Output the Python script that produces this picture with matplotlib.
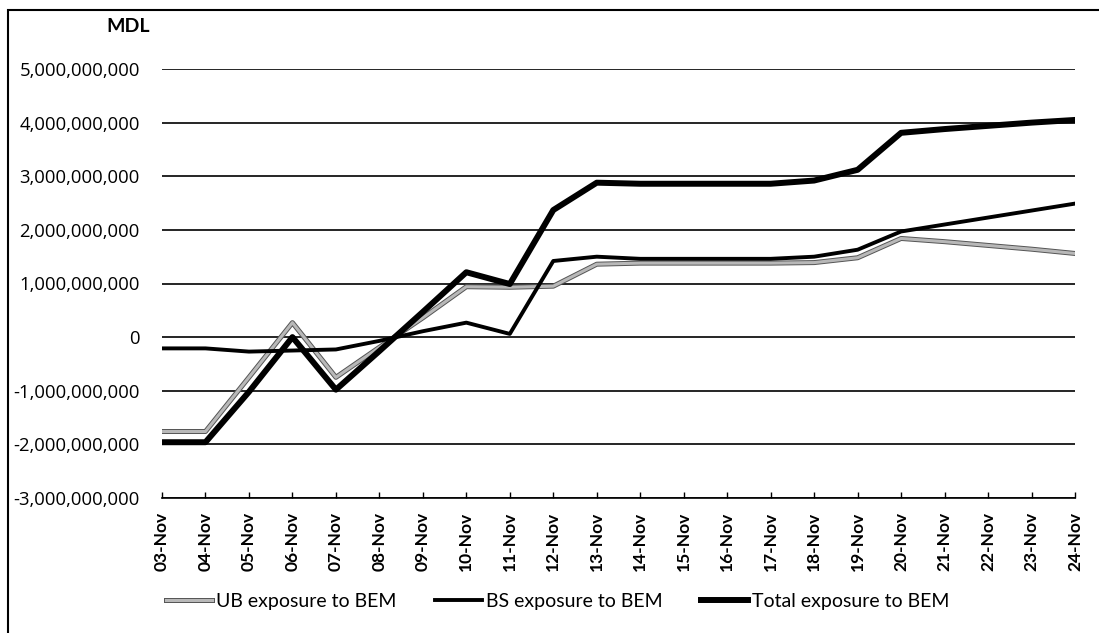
import matplotlib
matplotlib.use("Agg")
import matplotlib.pyplot as plt
import matplotlib.patheffects as pe
from matplotlib.ticker import FuncFormatter, MultipleLocator
from matplotlib.patches import Rectangle

dates = ["03-Nov", "04-Nov", "05-Nov", "06-Nov", "07-Nov", "08-Nov", "09-Nov",
         "10-Nov", "11-Nov", "12-Nov", "13-Nov", "14-Nov", "15-Nov", "16-Nov",
         "17-Nov", "18-Nov", "19-Nov", "20-Nov", "21-Nov", "22-Nov", "23-Nov",
         "24-Nov"]

ub_exposure = [-1.76e9, -1.76e9, -0.75e9, 0.27e9, -0.75e9, -0.19e9, 0.36e9,
               0.94e9, 0.93e9, 0.95e9, 1.36e9, 1.38e9, 1.38e9, 1.38e9,
               1.38e9, 1.39e9, 1.48e9, 1.84e9, 1.78e9, 1.71e9, 1.64e9, 1.56e9]

bs_exposure = [-0.21e9, -0.21e9, -0.27e9, -0.25e9, -0.23e9, -0.07e9, 0.11e9,
               0.27e9, 0.06e9, 1.42e9, 1.50e9, 1.46e9, 1.46e9, 1.46e9,
               1.46e9, 1.50e9, 1.63e9, 1.97e9, 2.10e9, 2.23e9, 2.36e9, 2.49e9]

total_exposure = [-1.96e9, -1.96e9, -1.02e9, 0.0e9, -0.98e9, -0.26e9, 0.47e9,
                  1.21e9, 0.99e9, 2.37e9, 2.88e9, 2.86e9, 2.86e9, 2.86e9,
                  2.86e9, 2.92e9, 3.12e9, 3.81e9, 3.88e9, 3.94e9, 4.00e9, 4.05e9]

series_labels = ["UB exposure to BEM", "BS exposure to BEM", "Total exposure to BEM"]

plt.rcParams["font.family"] = ["Lato", "DejaVu Sans"]

fig = plt.figure(figsize=(10.99, 6.33), dpi=100)
ax = fig.add_axes([162 / 1099, 1 - 498 / 633, (1075 - 162) / 1099, (498 - 69) / 633])

x = list(range(len(dates)))

ub_line, = ax.plot(x, ub_exposure, color="#b8b8b8", lw=2.2,
                   path_effects=[pe.Stroke(linewidth=3.6, foreground="#555555"), pe.Normal()],
                   zorder=3, label=series_labels[0])
bs_line, = ax.plot(x, bs_exposure, color="black", lw=2.8, zorder=4, label=series_labels[1])
tot_line, = ax.plot(x, total_exposure, color="black", lw=4.3, zorder=5, label=series_labels[2])

ax.set_xlim(0, len(dates) - 1)
ax.set_ylim(-3e9, 5e9)
ax.yaxis.set_major_locator(MultipleLocator(1e9))
ax.yaxis.set_major_formatter(FuncFormatter(lambda v, p: f"{v:,.0f}"))
ax.grid(axis="y", color="black", lw=1.2)
ax.set_axisbelow(True)

for side in ("left", "right", "top"):
    ax.spines[side].set_visible(False)
ax.spines["bottom"].set_color("black")
ax.spines["bottom"].set_linewidth(1.2)

ax.set_xticks(x)
ax.set_xticklabels(dates, rotation=90, fontsize=12.5, fontweight="bold")
ax.tick_params(axis="x", direction="in", length=4, width=1, pad=10, colors="black")
ax.tick_params(axis="y", length=0, pad=16)
for lbl in ax.get_yticklabels():
    lbl.set_fontfamily(["Open Sans", "DejaVu Sans"])
    lbl.set_fontsize(13.3)

fig.text(128 / 1099, 1 - 27 / 633, "MDL", ha="center", va="center",
         fontsize=14, fontweight="bold")

fig.legend(handles=[ub_line, bs_line, tot_line], loc="center left",
           bbox_to_anchor=(148 / 1099, 1 - 601 / 633), ncol=3, frameon=False,
           fontsize=14, handlelength=2.4, handletextpad=0.2, columnspacing=2.0)

fig.patches.append(Rectangle((8 / 1099, -0.01), 1.05, 1 - 10 / 633 + 0.01,
                             transform=fig.transFigure, fill=False,
                             edgecolor="black", lw=1.5))

fig.savefig("out.png", dpi=100)
